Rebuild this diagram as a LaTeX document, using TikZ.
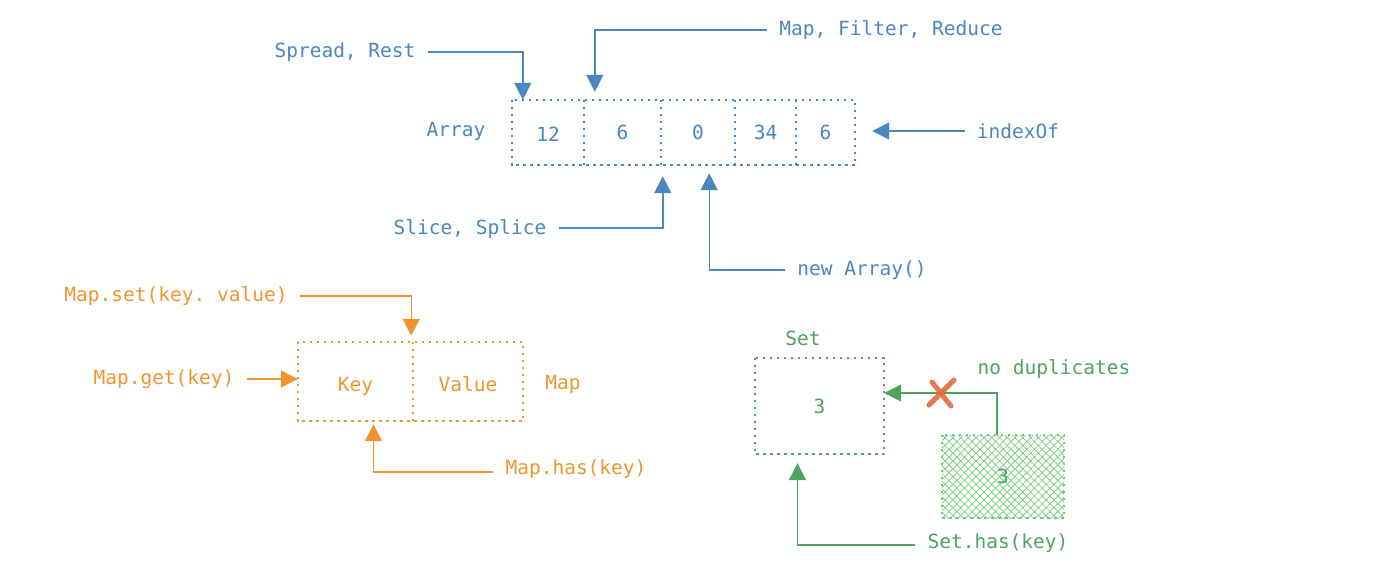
\documentclass[tikz,border=0pt]{standalone}
\usepackage{fontspec}
\setmonofont{DejaVu Sans Mono}
\usetikzlibrary{arrows.meta,patterns.meta}
\definecolor{cblue}{HTML}{4A86C0}
\definecolor{corange}{HTML}{F0952E}
\definecolor{cgreen}{HTML}{4FA35F}
\definecolor{chatch}{HTML}{6CCB78}
\definecolor{cred}{HTML}{E3693F}
\begin{document}
\begin{tikzpicture}[x=1pt,y=-1pt,
  lbl/.style={font=\ttfamily\fontsize{19.5}{22}\selectfont, inner sep=0pt},
  cell/.style={font=\ttfamily\fontsize{19.5}{22}\selectfont, inner sep=0pt, minimum height=#1, text height=14pt, text depth=0pt},
  bdot/.style={line width=2pt, dash pattern=on 2.5pt off 4.5pt},
  conn/.style={line width=1.4pt, shorten <=12pt, -{Triangle[width=17pt,length=17pt]}},
  xmark/.style={line width=5pt, line cap=round, cred, opacity=0.9}
]
\useasboundingbox (0,0) rectangle (1400,566);

% ---------------- Array ----------------
\begin{scope}[cblue]
\node[lbl, text=cblue] (arr) at (456,131) {Array};
\node[cell=65pt, minimum width=72pt, text=cblue] (c1) at (548,132.5) {\raisebox{-2pt}{12}};
\node[cell=65pt, minimum width=77pt, text=cblue] (c2) at (622.5,132.5) {6};
\node[cell=65pt, minimum width=74pt, text=cblue] (c3) at (698,132.5) {0};
\node[cell=65pt, minimum width=61pt, text=cblue] (c4) at (765.5,132.5) {34};
\node[cell=65pt, minimum width=59pt, text=cblue] (c5) at (825.5,132.5) {6};
\draw[bdot] (c1.north west) rectangle (c5.south east);
\draw[bdot] (c1.north east) -- (c1.south east);
\draw[bdot] (c2.north east) -- (c2.south east);
\draw[bdot] (c3.north east) -- (c3.south east);
\draw[bdot] (c4.north east) -- (c4.south east);

\node[lbl, text=cblue] (spread) at (345,52) {Spread, Rest};
\node[lbl, text=cblue] (mfr) at (891,30) {Map, Filter, Reduce};
\node[lbl, text=cblue] (idx) at (1018,131) {indexOf};
\node[lbl, text=cblue] (slice) at (470,229) {Slice, Splice};
\node[lbl, text=cblue] (newa) at (862,270) {new Array()};

\path ([xshift=17pt]c5.east) coordinate (idxtip);
\draw[conn] (spread.east) -| ([xshift=11pt]c1.north west);
\draw[conn] (mfr.west) -| ([xshift=11pt,yshift=8pt]c2.north west);
\draw[conn] (idx.west) -- (idx.west -| idxtip);
\draw[conn] ([yshift=1pt]slice.east) -| ([xshift=2pt,yshift=-11pt]c3.south west);
\draw[conn] (newa.west) -| ([xshift=-26pt,yshift=-8pt]c3.south east);
\end{scope}

% ---------------- Map ----------------
\begin{scope}[corange]
\node[cell=79pt, minimum width=115pt, text=corange] (k) at (355.5,381.5) {\raisebox{-3pt}{Key}};
\node[cell=79pt, minimum width=110pt, text=corange] (v) at (468,381.5) {\raisebox{-3pt}{Value}};
\draw[bdot] (k.north west) rectangle (v.south east);
\draw[bdot] (k.north east) -- (k.south east);
\node[lbl, text=corange] (mapl) at (563,384) {Map};

\node[lbl, text=corange] (mset) at (176,296) {Map.set(key. value)};
\node[lbl, text=corange] (mget) at (164,379) {Map.get(key)};
\node[lbl, text=corange] (mhas) at (576,469) {Map.has(key)};

\draw[conn] (mset.east) -| ([xshift=-2pt,yshift=6pt]k.north east);
\draw[conn] (mget.east) -- (mget.east -| k.west);
\draw[conn] ([yshift=-3pt]mhas.west) -| ([xshift=18pt,yshift=-3pt]k.south);
\end{scope}

% ---------------- Set ----------------
\begin{scope}[cgreen]
\node[cell=96pt, minimum width=129pt, text=cgreen] (s) at (819.5,406) {3};
\draw[bdot] (s.north west) rectangle (s.south east);
\node[lbl, text=cgreen] (setl) at (803,338) {Set};
\node[lbl, text=cgreen] (nodup) at (1054,369) {no duplicates};

\fill[pattern={Lines[angle=45,distance=5.5pt,line width=0.7pt]}, pattern color=chatch]
  (942,435) rectangle (1064,518);
\fill[pattern={Lines[angle=-45,distance=5.5pt,line width=0.7pt]}, pattern color=chatch]
  (942,435) rectangle (1064,518);
\node[cell=83pt, minimum width=122pt, text=cgreen] (h) at (1003,476.5) {3};
\draw[bdot, chatch] (h.north west) rectangle (h.south east);

\coordinate (bend) at (997,393);
\draw[line width=1.4pt, -{Triangle[width=17pt,length=17pt]}]
  ([xshift=-6pt]h.north) -- (bend) -- (bend -| s.east);

\node[lbl, text=cgreen] (shas) at (998,543) {Set.has(key)};
\draw[conn] ([yshift=-2pt]shas.west) -| ([xshift=-22pt,yshift=-9pt]s.south);
\end{scope}

% red cross
\draw[xmark] (929,405) -- (954,380);
\draw[xmark] (932,382) -- (951,406);
\end{tikzpicture}
\end{document}
